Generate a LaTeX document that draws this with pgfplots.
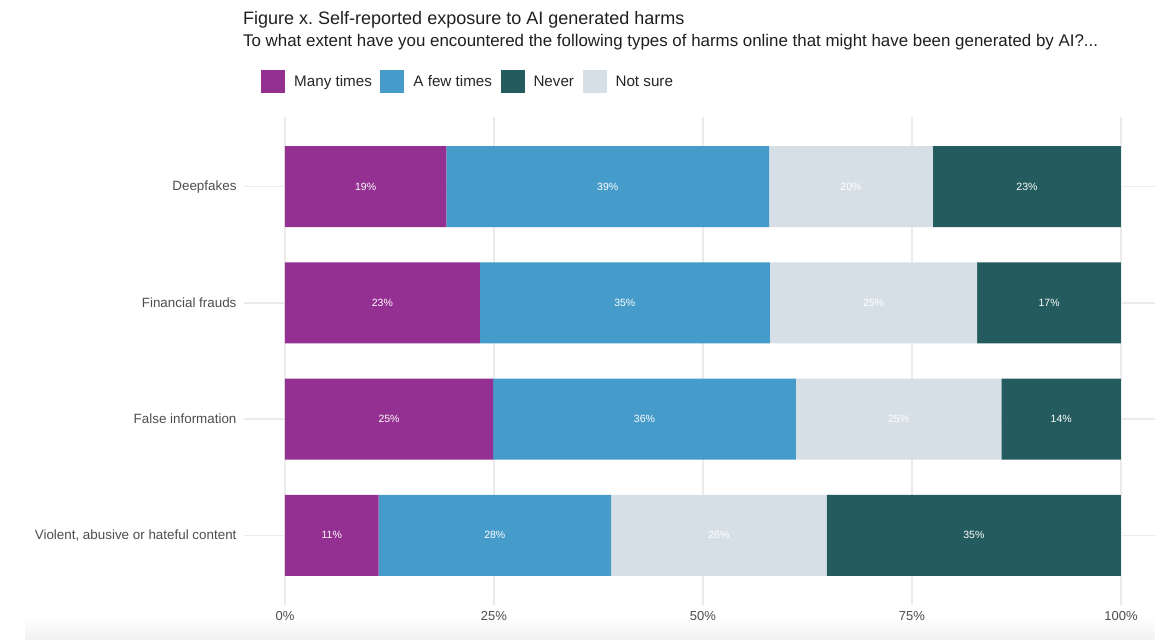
\documentclass[border=0pt]{standalone}
\usepackage{pgfplots}
\pgfplotsset{compat=1.18}
\usepackage{pgfplotstable}
\usepackage{fontspec}
\setmainfont{Liberation Sans}
\frenchspacing
\definecolor{cMany}{HTML}{943091}
\definecolor{cFew}{HTML}{459BCA}
\definecolor{cNever}{HTML}{245B5E}
\definecolor{cNot}{HTML}{D7DFE6}
\definecolor{cGrid}{HTML}{EBEBEB}
\definecolor{cTick}{HTML}{4D4D4D}

\pgfplotstableread{
idx many manyl few fewl notsure notl never neverl
1 19.3 19 38.6 39 19.6 20 22.5 23
2 23.3 23 34.7 35 24.8 25 17.2 17
3 24.9 25 36.2 36 24.6 25 14.3 14
4 11.2 11 27.8 28 25.8 26 35.2 35
}\datatable

\begin{document}
\begin{tikzpicture}[x=1pt,y=1pt]
\useasboundingbox (0,0) rectangle (1155,639);
\shade[top color=white, bottom color=black!5] (25,0) rectangle (1155,24);
\node[anchor=base west, font=\fontsize{18}{21}\selectfont, text=black!88, inner sep=0] at (243,614) {Figure x. Self-reported exposure to AI generated harms};
\node[anchor=base west, font=\fontsize{16.9}{20}\selectfont, text=black!88, inner sep=0] at (243,592.5) {To what extent have you encountered the following types of harms online that might have been generated by AI?...};
\begin{axis}[
  at={(244pt,34pt)}, anchor=south west,
  scale only axis, width=911pt, height=488pt,
  xbar stacked, bar width=81pt,
  xmin=-4.9, xmax=104.07,
  ymin=0.4, ymax=4.6, y dir=reverse,
  ytick={1,2,3,4},
  yticklabels={Deepfakes, Financial frauds, False information, {Violent, abusive or hateful content}},
  xtick={0,25,50,75,100},
  xticklabels={0\%,25\%,50\%,75\%,100\%},
  axis line style={draw=none},
  major tick length=0pt,
  xmajorgrids, ymajorgrids,
  grid style={cGrid, line width=1.3pt},
  tick label style={text=cTick},
  xticklabel style={yshift=-3pt, font=\fontsize{13}{15}\selectfont},
  yticklabel style={xshift=-4pt, font=\fontsize{13.4}{16}\selectfont},
  point meta=explicit symbolic,
  nodes near coords={\pgfplotspointmeta\%},
  every node near coord/.append style={anchor=center, text=white, font=\fontsize{10.5}{12}\selectfont},
  legend style={at={(axis description cs:0.0187,1.0963)}, anchor=north west, draw=none, fill=none, legend columns=4, inner sep=0pt,
    font=\fontsize{15.2}{18}\selectfont, text=black!85,
    /tikz/every odd column/.append style={column sep=7pt},
    /tikz/every even column/.append style={column sep=6.5pt}},
  legend cell align=left,
  legend image code/.code={\fill[#1, draw=none] (0pt,-11.5pt) rectangle (24pt,11.5pt);},
]
\addlegendimage{fill=cMany}\addlegendentry{Many times}
\addlegendimage{fill=cFew}\addlegendentry{A few times}
\addlegendimage{fill=cNever}\addlegendentry{Never}
\addlegendimage{fill=cNot}\addlegendentry{Not sure}
\addplot[fill=cMany, draw=none, forget plot] table[x=many, y=idx, meta=manyl] \datatable;
\addplot[fill=cFew, draw=none, forget plot] table[x=few, y=idx, meta=fewl] \datatable;
\addplot[fill=cNot, draw=none, forget plot] table[x=notsure, y=idx, meta=notl] \datatable;
\addplot[fill=cNever, draw=none, forget plot] table[x=never, y=idx, meta=neverl] \datatable;
\end{axis}
\end{tikzpicture}
\end{document}
